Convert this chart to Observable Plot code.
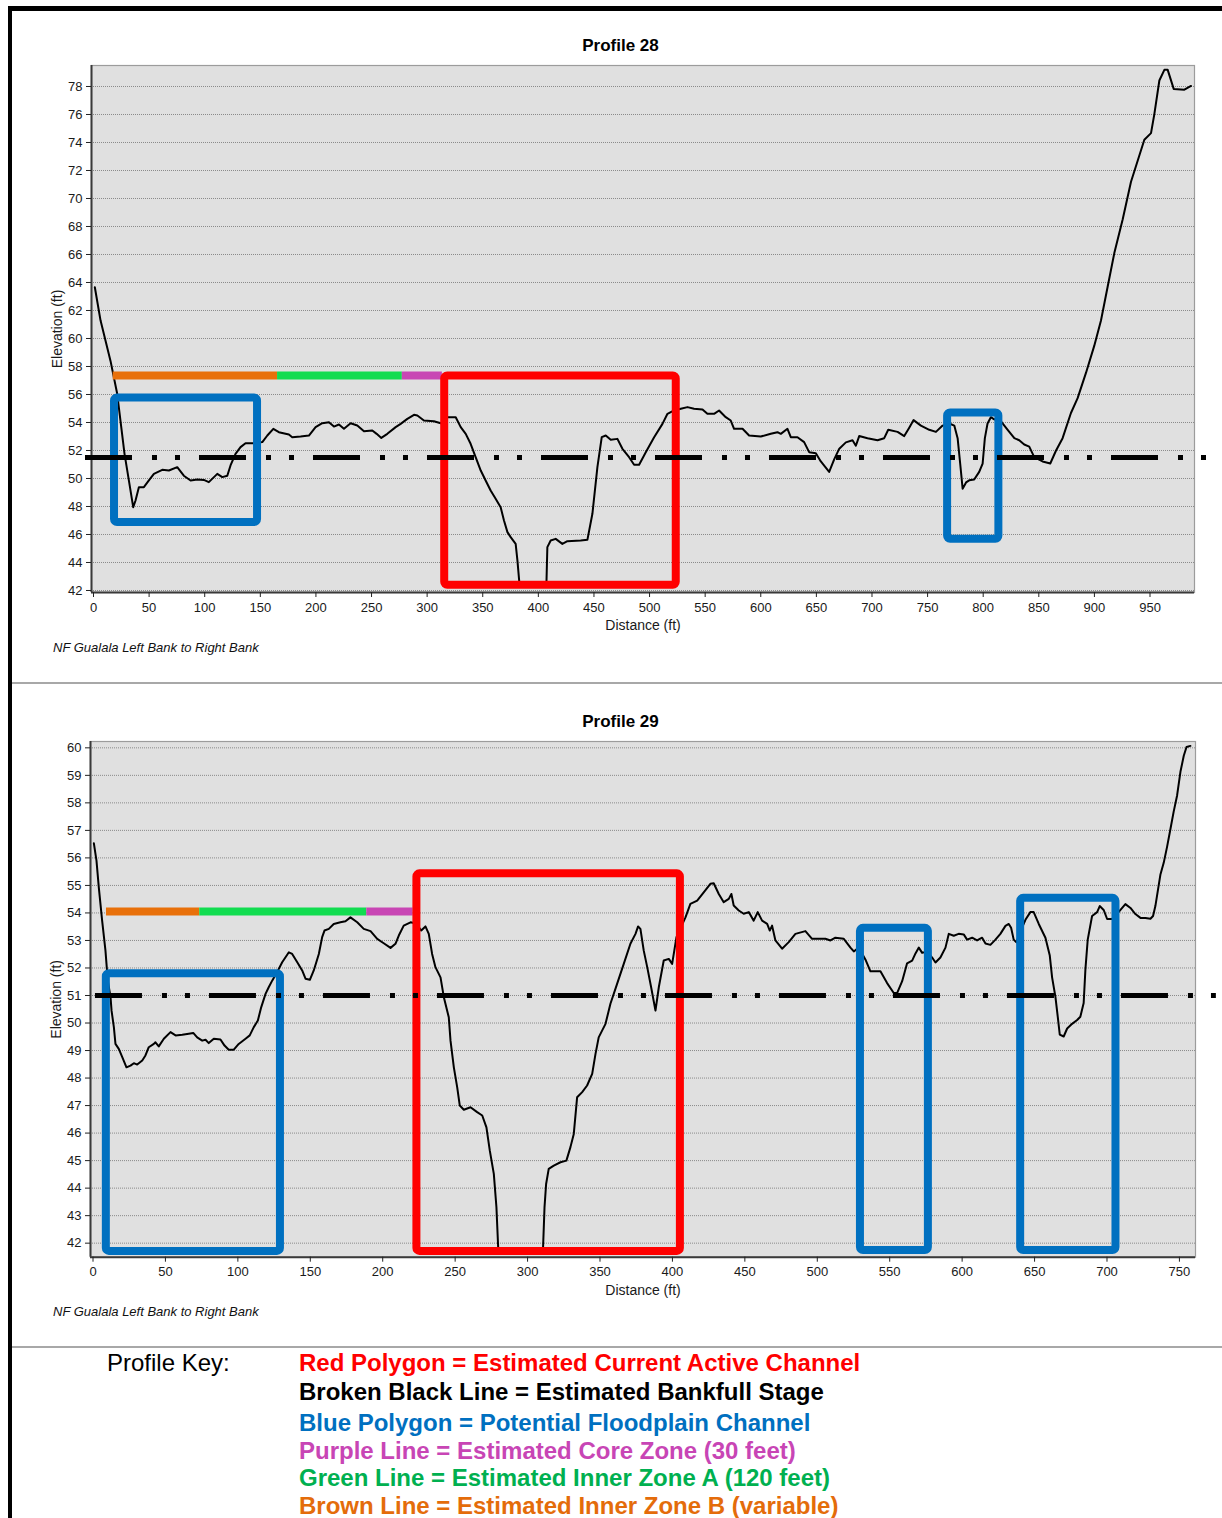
<!DOCTYPE html>
<html>
<head>
<meta charset="utf-8">
<script src="https://cdn.jsdelivr.net/npm/d3@7"></script>
<script src="https://cdn.jsdelivr.net/npm/@observablehq/plot@0.6"></script>
<style>
html, body { margin: 0; padding: 0; background: #fff; overflow: hidden; }
#page { position: relative; width: 1222px; height: 1518px; font-family: "Liberation Sans", Arial, sans-serif; }
.abs { position: absolute; }
.title { font-weight: bold; font-size: 17px; line-height: 19px; width: 201px; left: 520px; text-align: center; color: #000; }
.caption { font-style: italic; font-size: 13px; line-height: 14.5px; left: 53px; color: #111; }
.key { font-size: 24px; line-height: 26.8px; white-space: nowrap; }
.keyline { font-weight: bold; left: 299px; }
.chart { position: absolute; left: 0; }
.border { background: #000; z-index: 5; }
.sep { background: #a8a8a8; z-index: 5; }
</style>
</head>
<body>
<div id="page">
  <div id="chart28" class="chart" style="top:0px"></div>
  <div id="chart29" class="chart" style="top:683px"></div>

  <div class="abs title" style="top:36px">Profile 28</div>
  <div class="abs title" style="top:712px">Profile 29</div>
  <div class="abs caption" style="top:641px">NF Gualala Left Bank to Right Bank</div>
  <div class="abs caption" style="top:1305px">NF Gualala Left Bank to Right Bank</div>

  <div class="abs key" style="left:107px; top:1350px; color:#000">Profile Key:</div>
  <div id="keylines"></div>

  <div class="abs border" style="left:8px; top:6px; width:1214px; height:5px"></div>
  <div class="abs border" style="left:8px; top:6px; width:4px; height:1512px"></div>
  <div class="abs sep" style="left:12px; top:682px; width:1210px; height:2px"></div>
  <div class="abs sep" style="left:12px; top:1346px; width:1210px; height:2px"></div>
</div>

<script>
// ---------------- DATA ----------------
// Profile 28: distance (ft) and elevation (ft)
const dist28 = [1.2,6.3,15.3,21.3,27.9,31.8,35.7,37.8,40.8,45.3,49.8,54.3,61.8,67.8,75.3,81.2,87.3,93.3,99.2,103.7,111.3,115.8,120.3,123.2,127.7,132.2,136.7,144.2,151.8,156.3,161.7,166.7,175.7,178.7,186.2,193.7,199.7,205.7,211.7,216.2,220.7,225.2,231.2,237.2,243.2,250.7,254.6,258.8,264.2,271.7,276.2,282.2,288.2,291.2,297.1,306.1,312.2,318.2,325.7,330.2,334.7,339.1,343.6,348.2,352.6,357.1,361.6,366.1,369.1,372.2,375.1,379.6,381.2,383.2,407.2,408.1,411.1,415.6,421.6,426.1,438.1,444.1,448.6,453.1,457,460.6,465.1,471.1,475.6,481.6,486.1,490.6,496.6,504.1,511.6,516.1,522.1,528.1,534.1,540,547.6,552,558,562.5,568.5,573,576,583.6,589.5,600,609,615,618,624,627,633,639,643.5,649.5,654,661.5,666,670.6,676.5,682.5,685.5,688.5,696,705,711,714.6,723,729,733.5,737.4,744,751.5,757.5,763.5,769.5,774,777,779.3,781.5,784.6,787.4,791.9,796.4,799.5,801.5,803.9,806.9,809.9,816,822,828,832.4,836.9,841.4,845.9,853.4,860.3,865.4,871.4,878.9,884.9,892.4,899.9,905.9,911.9,917.9,925.4,932.9,938.9,944.9,950.9,953.9,958.4,962.9,965.9,971.3,980.9,986.9];
const elev28 = [63.66,61.3,58.4,56.05,51.76,49.86,47.95,48.43,49.38,49.38,49.86,50.33,50.62,50.57,50.81,50.2,49.86,49.93,49.9,49.74,50.33,50.1,50.2,50.93,51.76,52.24,52.52,52.52,52.6,53.07,53.55,53.31,53.14,52.95,53.0,53.07,53.67,53.95,54.02,53.71,53.86,53.55,53.95,53.79,53.38,53.43,53.19,52.9,53.19,53.67,53.9,54.26,54.55,54.5,54.14,54.09,53.95,54.38,54.38,53.67,53.19,52.48,51.52,50.57,49.86,49.14,48.55,47.95,47.0,46.17,45.81,45.33,44.14,42.3,42.3,45.1,45.57,45.69,45.33,45.52,45.57,45.62,47.48,50.81,52.95,53.07,52.76,52.83,52.12,51.52,50.98,50.98,51.88,52.95,53.9,54.62,54.86,54.98,55.1,54.98,54.93,54.62,54.62,54.86,54.38,54.14,53.55,53.55,53.07,53.0,53.19,53.31,53.19,53.55,52.95,52.95,52.6,51.88,51.81,51.22,50.47,51.37,52.13,52.58,52.73,52.34,53.03,52.88,52.73,52.88,53.48,53.33,53.03,53.63,54.17,53.78,53.48,53.33,53.78,53.93,53.78,52.88,51.07,49.27,49.72,49.87,49.93,50.47,51.07,52.88,53.93,54.38,54.23,54.08,53.48,52.88,52.73,52.43,52.28,51.53,51.22,51.07,51.98,52.88,54.68,55.74,57.54,59.49,61.29,63.7,66.1,68.5,71.2,72.7,74.2,74.67,76.03,78.43,79.19,79.19,77.83,77.77,78.04];

// Profile 29
const dist29 = [0.6,2.4,4.0,6.3,8.6,10.2,12.1,12.8,14.4,15.5,17.8,20.2,23.1,25.9,28.2,30.5,34.0,36.2,38.5,42.0,43.1,45.4,48.9,53.5,57.0,61.6,66.1,69.2,71.9,75.4,77.7,79.9,83.4,88.0,90.8,93.7,97.2,100.6,105.3,108.2,111,113.8,116.1,119.1,121.3,123.7,127.1,130.6,135.2,137.5,141.0,144.4,146.7,149.7,152.4,155.9,158.2,159.8,162.8,166.2,170.8,174.3,177.7,182.4,186.9,191.6,196.2,200.7,205.4,208.8,211.1,214.5,219.2,223,226.6,229.5,231.8,234.1,236.4,239.9,242.2,245.6,246.8,249.1,251.4,253.2,256,260.6,265.2,268.7,271.6,273.9,276.7,278.5,279.7,281,309,310.7,311.7,312.8,314.6,318.1,322.7,326.8,329.6,331.9,334.2,337.7,341.1,344.6,346.9,349.1,353.8,357.2,361.8,366.4,371.0,374.5,376.3,377.9,380.2,382.6,385.3,388.3,390.6,394.0,397.5,399.8,402.8,409.0,412.4,417.1,421.6,426.2,428.5,432,435.4,438.9,440.7,442.3,445.8,449.2,452.7,456.1,458.9,461.9,465.4,467.2,468.8,471.1,475.7,480.3,484.9,491.8,496.4,505.6,509.1,512.5,518.3,522.9,525.2,528.6,533.2,536.7,543.6,548.2,552.8,555.1,558.6,562.0,565.5,567.8,570.1,572.4,575.8,579.3,581.6,585.0,588.5,590.8,594.2,597.6,601.1,603.4,606.9,610.3,613.8,616.1,619.5,623,626.4,629.9,632.2,633.8,635.6,637.5,640.2,643.7,647.1,649.4,652.9,657.5,660.5,662.1,664.4,666.0,667.4,670.1,672.5,675.9,679.4,681.6,683.9,685.1,686.7,689.7,693.2,695.0,697.7,700.1,703.5,706.9,709.3,712.7,716.2,719.6,723.1,726.5,730,731.8,733.4,736.9,739.2,741.5,743.8,746.1,748.4,750.7,753.0,754.9,757.6];
const elev29 = [56.53,55.9,54.93,53.72,52.63,51.54,50.94,50.45,49.85,49.24,49.06,48.76,48.39,48.45,48.54,48.49,48.64,48.82,49.12,49.24,49.3,49.15,49.43,49.67,49.55,49.57,49.61,49.64,49.48,49.36,49.39,49.27,49.43,49.4,49.18,49.03,49.03,49.24,49.43,49.55,49.85,50.09,50.57,51.06,51.3,51.54,51.85,52.21,52.57,52.51,52.21,51.91,51.61,51.57,51.91,52.51,53.12,53.36,53.42,53.6,53.66,53.7,53.84,53.66,53.42,53.34,53.06,52.9,52.73,52.88,53.18,53.54,53.66,53.62,53.36,53.51,53.24,52.51,52.03,51.66,50.94,50.21,49.36,48.39,47.67,47.0,46.85,46.94,46.76,46.64,46.21,45.37,44.52,43.31,41.85,41.7,41.7,41.85,43.31,44.15,44.70,44.82,44.94,45.0,45.49,45.97,47.3,47.49,47.73,48.15,48.88,49.48,49.97,50.70,51.42,52.15,52.88,53.24,53.51,53.42,52.63,52.03,51.3,50.45,51.3,52.27,52.33,52.15,53.12,53.84,54.33,54.45,54.75,55.06,55.08,54.69,54.39,54.51,54.69,54.27,54.09,53.97,54.03,53.72,54.03,53.72,53.6,53.36,53.54,53.0,52.7,52.94,53.24,53.34,53.06,53.06,53.0,53.1,53.06,52.74,52.6,52.74,52.31,51.88,51.88,51.45,51.09,51.09,51.52,52.17,52.27,52.53,52.74,52.55,52.6,52.38,52.2,52.38,52.74,53.24,53.17,53.24,53.22,53.03,53.1,53.0,53.1,52.89,52.84,53.03,53.24,53.53,53.6,53.46,53.03,52.93,53.32,53.75,54.03,54.03,53.6,53.1,52.45,51.66,50.95,50.23,49.58,49.51,49.8,49.97,50.11,50.23,50.73,51.95,53.03,53.89,54.03,54.25,54.11,53.78,53.78,53.96,54.11,54.32,54.18,53.96,53.82,53.82,53.79,53.89,54.25,55.4,55.83,56.41,57.05,57.7,58.27,59.13,59.71,60.03,60.07];

// Tick labels
const yTicks28 = [42,44,46,48,50,52,54,56,58,60,62,64,66,68,70,72,74,76,78];
const xTicks28 = [0,50,100,150,200,250,300,350,400,450,500,550,600,650,700,750,800,850,900,950];
const yTicks29 = [42,43,44,45,46,47,48,49,50,51,52,53,54,55,56,57,58,59,60];
const xTicks29 = [0,50,100,150,200,250,300,350,400,450,500,550,600,650,700,750];

// Annotations (feet / elevation)
const activeChannel28 = [{x1: 315.8, x2: 524.0, y1: 42.38, y2: 57.32}];
const floodplain28 = [{x1: 18.9, x2: 147.5, y1: 46.86, y2: 55.75}, {x1: 768.0, x2: 814.1, y1: 45.66, y2: 54.68}];
const zones28 = [{zone: "B", x1: 17.7, x2: 165.5, elev: 57.36}, {zone: "A", x1: 165.5, x2: 277.7, elev: 57.36}, {zone: "Core", x1: 277.7, x2: 313.7, elev: 57.36}];
const bankfull28 = [{elev: 51.5, x1: -7.2, x2: 1001.3}];

const activeChannel29 = [{x1: 223.6, x2: 405.5, y1: 41.70, y2: 55.42}];
const floodplain29 = [{x1: 9.2, x2: 129.4, y1: 41.70, y2: 51.79}, {x1: 529.8, x2: 576.7, y1: 41.73, y2: 53.44}, {x1: 640.4, x2: 706.2, y1: 41.73, y2: 54.53}];
const zones29 = [{zone: "B", x1: 9.3, x2: 73.7, elev: 54.05}, {zone: "A", x1: 73.7, x2: 189.0, elev: 54.05}, {zone: "Core", x1: 189.0, x2: 221.0, elev: 54.05}];
const bankfull29 = [{elev: 51.0, x1: 1.7, x2: 775.5}];

const keyLabels = [
  "Red Polygon = Estimated Current Active Channel",
  "Broken Black Line = Estimated Bankfull Stage",
  "Blue Polygon = Potential Floodplain Channel",
  "Purple Line = Estimated Core Zone (30 feet)",
  "Green Line = Estimated Inner Zone A (120 feet)",
  "Brown Line = Estimated Inner Zone B (variable)"
];
const keyColors = ["#ff0000", "#000000", "#0070c0", "#c845b5", "#00b050", "#e46c0a"];
const keyTops = [1350, 1379, 1410, 1438, 1465, 1493];

const zoneColor = {B: "#e8700a", A: "#12dc50", Core: "#c846b4"};

// ---------------- CHART ----------------
function profileChart(cfg) {
  const pts = cfg.dist.map((d, i) => ({d, e: cfg.elev[i]}));
  return Plot.plot({
    width: 1222,
    height: cfg.height,
    marginLeft: cfg.ml, marginRight: cfg.mr, marginTop: cfg.mt, marginBottom: cfg.mb,
    x: {domain: cfg.xdom},
    y: {domain: cfg.ydom},
    style: {fontFamily: '"Liberation Sans", Arial, sans-serif', fontSize: "13px", color: "#1a1a1a", background: "transparent", overflow: "visible"},
    marks: [
      Plot.frame({fill: "#e0e0e0", stroke: "#9c9c9c", strokeWidth: 1.2}),
      Plot.gridY(cfg.yTicks, {stroke: "#8a8a8a", strokeOpacity: 1, strokeWidth: 1, strokeDasharray: "1,1"}),
      Plot.ruleX([cfg.xdom[0]], {stroke: "#3a3a3a", strokeWidth: 2}),
      Plot.ruleY([cfg.ydom[0]], {stroke: "#3a3a3a", strokeWidth: 2}),
      Plot.axisY(cfg.yTicks, {tickSize: 5, tickPadding: 4, label: null, stroke: "#222"}),
      Plot.axisX(cfg.xTicks, {tickSize: 5, tickPadding: 5, label: null, stroke: "#222"}),
      Plot.text(["Elevation (ft)"], {frameAnchor: "left", dx: -34, rotate: -90, textAnchor: "middle", lineAnchor: "middle", fontSize: 14, fill: "#1a1a1a"}),
      Plot.text(["Distance (ft)"], {frameAnchor: "bottom", dy: cfg.xLabelDy, textAnchor: "middle", lineAnchor: "middle", fontSize: 14, fill: "#1a1a1a"}),
      Plot.line(pts, {x: "d", y: "e", stroke: "#000", strokeWidth: 2}),
      Plot.ruleY(cfg.zones, {y: "elev", x1: "x1", x2: "x2", stroke: (d) => zoneColor[d.zone], strokeWidth: 8}),
      Plot.rect(cfg.floodplain, {x1: "x1", x2: "x2", y1: "y1", y2: "y2", fill: "none", stroke: "#0070c0", strokeWidth: 8, rx: 3}),
      Plot.rect(cfg.active, {x1: "x1", x2: "x2", y1: "y1", y2: "y2", fill: "none", stroke: "#ff0000", strokeWidth: 8, rx: 3}),
      Plot.ruleY(cfg.bankfull, {y: "elev", x1: "x1", x2: "x2", stroke: "#000", strokeWidth: 5, strokeDasharray: "47,20,5,18,5,19", strokeLinecap: "butt"})
    ]
  });
}

document.getElementById("chart28").append(profileChart({
  dist: dist28, elev: elev28, yTicks: yTicks28, xTicks: xTicks28,
  height: 683, ml: 91, mr: 28, mt: 65, mb: 91, xLabelDy: 33,
  xdom: [-1.8, 990], ydom: [41.857, 79.5],
  zones: zones28, floodplain: floodplain28, active: activeChannel28, bankfull: bankfull28
}));

document.getElementById("chart29").append(profileChart({
  dist: dist29, elev: elev29, yTicks: yTicks29, xTicks: xTicks29,
  height: 664, ml: 90, mr: 27, mt: 58, mb: 90.3, xLabelDy: 33,
  xdom: [-1.73, 761.1], ydom: [41.49, 60.23],
  zones: zones29, floodplain: floodplain29, active: activeChannel29, bankfull: bankfull29
}));

const keyHost = document.getElementById("keylines");
keyLabels.forEach((t, i) => {
  const div = document.createElement("div");
  div.className = "abs key keyline";
  div.style.top = keyTops[i] + "px";
  div.style.color = keyColors[i];
  div.textContent = t;
  keyHost.append(div);
});
</script>
</body>
</html>
